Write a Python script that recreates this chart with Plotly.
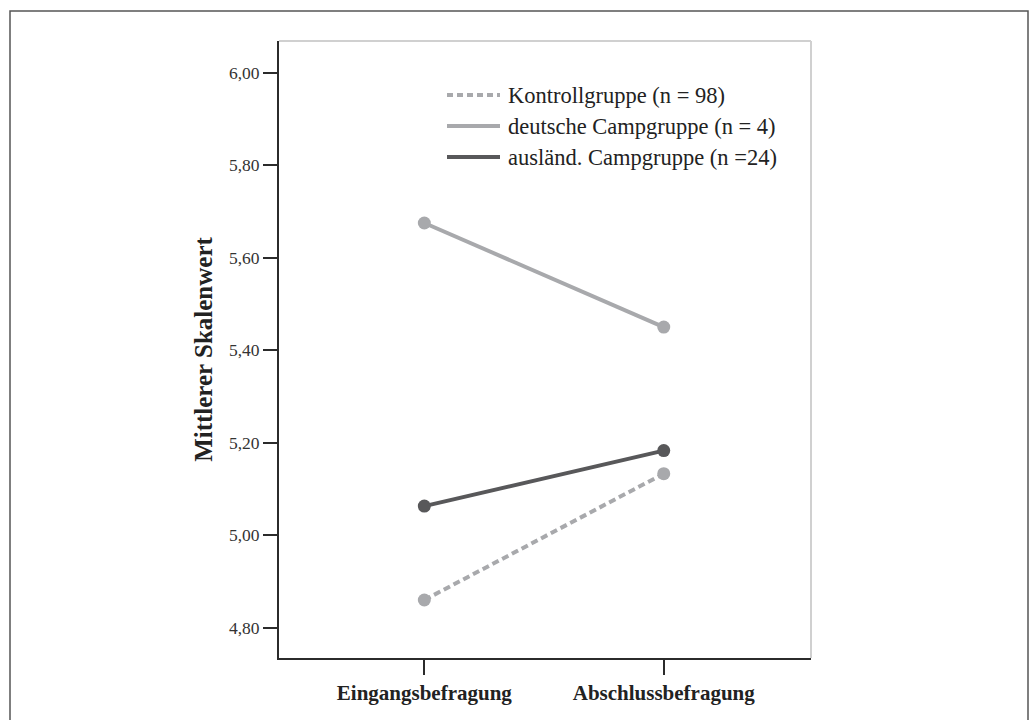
import plotly.graph_objects as go

# Survey time points and mean scale values per group
zeitpunkte = ["Eingangsbefragung", "Abschlussbefragung"]
kontroll = [4.860, 5.133]
deutsch = [5.675, 5.450]
auslaend = [5.063, 5.183]
gruppen = ["Kontrollgruppe (n = 98)", "deutsche Campgruppe (n = 4)", "ausländ. Campgruppe (n =24)"]
y_ticks = [4.8, 5.0, 5.2, 5.4, 5.6, 5.8, 6.0]

HELL = "#a8a9ac"
DUNKEL = "#58585a"
ACHSE = "#2b2b2b"
SERIF = "Liberation Serif, Times New Roman, serif"

serien = [
    (kontroll, HELL, "7px,4px"),
    (deutsch, HELL, "solid"),
    (auslaend, DUNKEL, "solid"),
]

fig = go.Figure()
xpos = list(range(len(zeitpunkte)))
for (werte, farbe, stil), name in zip(serien, gruppen):
    fig.add_trace(go.Scatter(
        x=xpos, y=werte, name=name, mode="lines+markers",
        line=dict(color=farbe, width=4, dash=stil),
        marker=dict(color=farbe, size=13),
        showlegend=False,
    ))

# plot area geometry in pixels
W, H = 1035, 720
L, R, T, B = 279, 224, 41, 62
pw, ph = W - L - R, H - T - B

def px_x(p):
    return (p - L) / pw

def px_y(p):
    return 1 - (p - T) / ph

shapes = []
# outer frame
shapes.append(dict(type="rect", xref="paper", yref="paper",
                   x0=px_x(10), x1=px_x(1028), y0=px_y(730), y1=px_y(11),
                   line=dict(color="#555555", width=1.5), layer="below"))
# light top and right borders of the plot area
shapes.append(dict(type="line", xref="paper", yref="paper", x0=0, x1=1, y0=1, y1=1,
                   line=dict(color="#d0d0d0", width=2)))
shapes.append(dict(type="line", xref="paper", yref="paper", x0=1, x1=1, y0=0, y1=1,
                   line=dict(color="#d0d0d0", width=2)))

# legend drawn as line samples with text
annotations = []
leg_rows = [95, 126, 157]
leg_dash = ["6px,4px", "solid", "solid"]
for (werte, farbe, _), stil, name, yy in zip(serien, leg_dash, gruppen, leg_rows):
    shapes.append(dict(type="line", xref="paper", yref="paper",
                       x0=px_x(447), x1=px_x(500), y0=px_y(yy), y1=px_y(yy),
                       line=dict(color=farbe, width=4, dash=stil)))
    annotations.append(dict(xref="paper", yref="paper", x=px_x(506), y=px_y(yy),
                            xanchor="left", yanchor="middle", showarrow=False,
                            text=name, font=dict(family=SERIF, size=22.5, color="#222222")))

fig.update_layout(
    width=W, height=H,
    margin=dict(l=L, r=R, t=T, b=B, pad=0),
    paper_bgcolor="white", plot_bgcolor="white",
    separators=",.",
    shapes=shapes, annotations=annotations,
    xaxis=dict(
        range=[-0.607, 1.615], tickmode="array", tickvals=xpos,
        ticktext=["<b>" + t + "</b>" for t in zeitpunkte],
        showgrid=False, zeroline=False, showline=True, linecolor=ACHSE, linewidth=2,
        ticks="outside", ticklen=15, tickwidth=2, tickcolor=ACHSE,
        tickfont=dict(family=SERIF, size=21, color="#222222"),
    ),
    yaxis=dict(
        range=[4.7346, 6.0684], tickmode="array", tickvals=y_ticks, tickformat=".2f",
        showgrid=False, zeroline=False, showline=True, linecolor=ACHSE, linewidth=2,
        ticks="outside", ticklen=14, tickwidth=2, tickcolor=ACHSE,
        tickfont=dict(family=SERIF, size=17.5, color="#333333"),
        title=dict(text="<b>Mittlerer Skalenwert</b>", standoff=9,
                   font=dict(family=SERIF, size=25, color="#222222")),
    ),
)

fig.write_html("out.html")
